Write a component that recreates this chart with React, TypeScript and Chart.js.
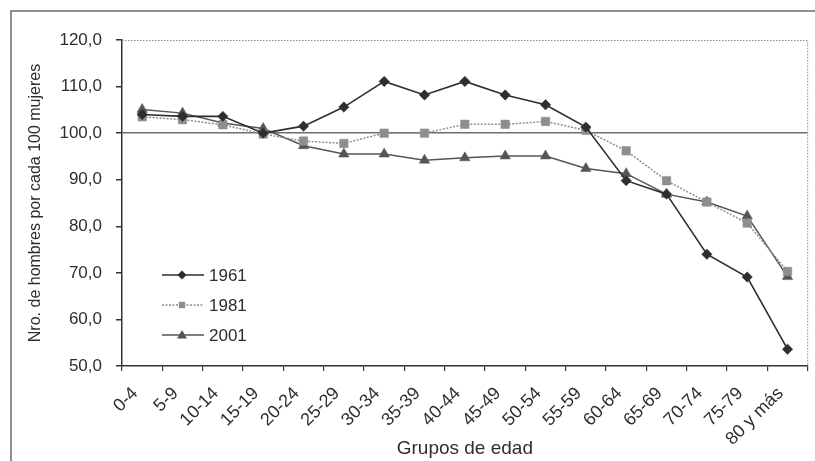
import React, { useEffect, useRef } from 'react';
import { Chart, registerables } from 'chart.js';

Chart.register(...registerables);

const categories = [
  '0-4', '5-9', '10-14', '15-19', '20-24', '25-29', '30-34', '35-39', '40-44',
  '45-49', '50-54', '55-59', '60-64', '65-69', '70-74', '75-79', '80 y más',
];
const series1961 = [104.0, 103.6, 103.6, 100.0, 101.5, 105.6, 111.1, 108.2, 111.1, 108.2, 106.1, 101.3, 89.8, 86.9, 74.0, 69.1, 53.6];
const series1981 = [103.5, 102.9, 101.8, 99.8, 98.3, 97.8, 100.0, 100.0, 101.9, 101.9, 102.5, 100.6, 96.2, 89.8, 85.2, 80.7, 70.3];
const series2001 = [105.1, 104.3, 102.2, 101.0, 97.3, 95.5, 95.5, 94.2, 94.7, 95.1, 95.1, 92.4, 91.3, 86.9, 85.2, 82.2, 69.2];
const seriesLabels = ['1961', '1981', '2001'];
const yMin = 50;
const yMax = 120;
const yStep = 10;
const refLine = 100;

const FONT = '"Liberation Sans", Arial, Helvetica, sans-serif';
const TEXT = '#2e2e2e';

function drawMarker(ctx: CanvasRenderingContext2D, style: string, x: number, y: number, s: number, color: string) {
  ctx.save();
  ctx.fillStyle = color;
  ctx.beginPath();
  if (style === 'rectRot') {
    ctx.moveTo(x, y - s);
    ctx.lineTo(x + s, y);
    ctx.lineTo(x, y + s);
    ctx.lineTo(x - s, y);
  } else if (style === 'rect') {
    ctx.rect(x - s, y - s, 2 * s, 2 * s);
  } else {
    ctx.moveTo(x, y - s * 1.1);
    ctx.lineTo(x + s * 1.1, y + s * 0.8);
    ctx.lineTo(x - s * 1.1, y + s * 0.8);
  }
  ctx.closePath();
  ctx.fill();
  ctx.restore();
}

const framePlugin = {
  id: 'frame',
  beforeDraw(chart: any) {
    const ctx = chart.ctx;
    ctx.save();
    ctx.fillStyle = '#ffffff';
    ctx.fillRect(0, 0, chart.width, chart.height);
    ctx.restore();
  },
  afterDraw(chart: any) {
    const ctx = chart.ctx;
    const a = chart.chartArea;
    ctx.save();
    ctx.strokeStyle = '#6a6a6a';
    ctx.lineWidth = 1.5;
    ctx.strokeRect(11, 11, 900, 900);
    ctx.strokeStyle = '#8a8a8a';
    ctx.lineWidth = 1;
    ctx.setLineDash([1.5, 1.5]);
    ctx.beginPath();
    ctx.moveTo(a.left, a.top + 0.5);
    ctx.lineTo(a.right, a.top + 0.5);
    ctx.lineTo(a.right, a.bottom);
    ctx.stroke();
    ctx.restore();
  },
};

const legendPlugin = {
  id: 'insideLegend',
  afterDatasetsDraw(chart: any) {
    const ctx = chart.ctx;
    const rows = [275, 305, 335];
    chart.data.datasets.forEach((ds: any, i: number) => {
      const y = rows[i];
      ctx.save();
      ctx.strokeStyle = ds.borderColor;
      ctx.lineWidth = 1.5;
      ctx.setLineDash(ds.borderDash || []);
      ctx.beginPath();
      ctx.moveTo(162, y);
      ctx.lineTo(204, y);
      ctx.stroke();
      ctx.restore();
      const sizes: any = { rectRot: 4.5, rect: 3.2, triangle: 4.5 };
      drawMarker(ctx, ds.pointStyle, 182, y, sizes[ds.pointStyle], ds.backgroundColor);
      ctx.save();
      ctx.fillStyle = TEXT;
      ctx.font = `17px ${FONT}`;
      ctx.textBaseline = 'middle';
      ctx.textAlign = 'left';
      ctx.fillText(ds.label, 209, y + 1);
      ctx.restore();
    });
  },
};

export default function App() {
  const ref = useRef<HTMLCanvasElement | null>(null);
  useEffect(() => {
    if (!ref.current) return;
    const chart = new Chart(ref.current, {
      type: 'line',
      data: {
        labels: categories,
        datasets: [
          {
            label: seriesLabels[0], data: series1961, borderColor: '#2e2e2e', backgroundColor: '#2e2e2e',
            borderWidth: 1.6, pointStyle: 'rectRot', pointRadius: 5.2, pointBorderWidth: 0.5, tension: 0,
          },
          {
            label: seriesLabels[1], data: series1981, borderColor: '#8e8e8e', backgroundColor: '#8e8e8e',
            borderWidth: 1.5, borderDash: [2, 1.5], pointStyle: 'rect', pointRadius: 6, pointBorderWidth: 0.5, tension: 0,
          },
          {
            label: seriesLabels[2], data: series2001, borderColor: '#555555', backgroundColor: '#555555',
            borderWidth: 1.5, pointStyle: 'triangle', pointRadius: 6, pointBorderWidth: 0.5, tension: 0,
          },
        ] as any,
      },
      options: {
        responsive: false,
        animation: false,
        devicePixelRatio: 1,
        layout: { padding: { left: 0, top: 40, right: 5, bottom: 0 } },
        plugins: { legend: { display: false }, tooltip: { enabled: false } },
        scales: {
          x: {
            offset: true,
            grid: { offset: true, drawOnChartArea: false, color: '#333', tickColor: '#333', tickLength: 5, lineWidth: 1.2 },
            border: { color: '#333', width: 1.5 },
            ticks: { minRotation: 45, maxRotation: 45, autoSkip: false, padding: 12, labelOffset: -7, color: TEXT, font: { family: FONT, size: 18 } },
            title: { display: true, text: 'Grupos de edad', color: TEXT, font: { family: FONT, size: 19 }, padding: { top: 0, bottom: 1 } },
            afterFit: (s: any) => { s.height = 95; },
          },
          y: {
            min: yMin,
            max: yMax,
            ticks: {
              stepSize: yStep, padding: 14, color: TEXT, font: { family: FONT, size: 17 },
              callback: (v: any) => Number(v).toFixed(1).replace('.', ','),
            },
            grid: {
              color: (c: any) => (c.tick && c.tick.value === refLine ? '#6e6e6e' : 'rgba(0,0,0,0)'),
              tickColor: '#333', tickLength: 6, lineWidth: 1.5,
            },
            border: { color: '#333', width: 1.5 },
            title: { display: true, text: 'Nro. de hombres por cada 100 mujeres', color: TEXT, font: { family: FONT, size: 16 }, padding: { top: 26, bottom: 0 } },
            afterFit: (s: any) => { s.width = 122; },
          },
        },
      } as any,
      plugins: [framePlugin, legendPlugin],
    });
    return () => chart.destroy();
  }, []);
  return (
    <div style={{ position: 'absolute', left: 0, top: 0, width: 815, height: 461 }}>
      <canvas ref={ref} width={815} height={461} />
    </div>
  );
}
